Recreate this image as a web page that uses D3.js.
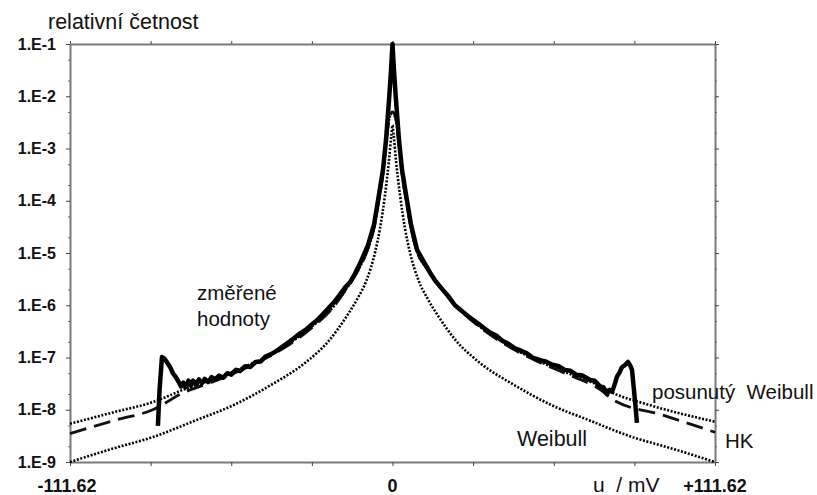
<!DOCTYPE html>
<html>
<head>
<meta charset="utf-8">
<script src="https://cdn.jsdelivr.net/npm/d3@7"></script>
<style>
  body { margin: 0; background: #fff; }
  text { font-family: "Liberation Sans", Arial, sans-serif; fill: #111; white-space: pre; }
</style>
</head>
<body>
<div id="chart"></div>
<script>
// axis ticks
const xTicks = [-111.62, -83.715, -55.81, -27.905, 0, 27.905, 55.81, 83.715, 111.62];
const xTickLabels = ["-111.62", "", "", "", "0", "", "", "", "+111.62"];
const yTicks = [1e-1, 1e-2, 1e-3, 1e-4, 1e-5, 1e-6, 1e-7, 1e-8, 1e-9];
const yTickLabels = ["1.E-1", "1.E-2", "1.E-3", "1.E-4", "1.E-5", "1.E-6", "1.E-7", "1.E-8", "1.E-9"];

// measured values (u in mV, relative frequency)
const measU = [-81.2, -80.6, -79.8, -78.9, -78.0, -77.0, -76.0, -75.0, -74.0, -73.2, -72.4, -71.6, -70.6,
  -69.8, -69.0, -68.0, -67.0, -66.0, -65.0, -63.8, -62.6, -61.4, -60.0, -58.6, -57.2, -55.8, -54.2,
  -52.8, -51.0, -49.2, -47.4, -45.6, -44.1, -42.0, -40.0, -37.8, -35.5, -33.5, -32.0, -30.0, -28.6,
  -26.0, -23.4, -20.5, -18.2, -16.4, -14.7, -13.0, -11.3, -8.5, -6.4, -5.0, -3.3, -2.25, -1.2, -0.5, 0,
  0.5, 1.2, 2.25, 3.3, 5.0, 6.4, 8.5, 11.25, 13.0, 14.7, 17.5, 19.5, 21.6, 24.0, 26.8, 30.0, 33.75, 36.0,
  38.0, 40.0, 42.4, 44.5, 46.5, 48.5, 51.05, 53.0, 55.0, 57.5, 59.7, 61.5, 63.5, 65.5, 68.4, 70.0,
  71.8, 73.0, 74.2, 75.2, 76.0, 77.0, 77.7, 78.6, 79.4, 80.5, 81.5, 82.3, 82.9, 83.4, 83.9, 84.6];
const measV = [4.9e-9, 2.5e-8, 1.02e-7, 9.5e-8, 8.0e-8, 6.6e-8, 5.0e-8, 4.2e-8, 3.4e-8, 2.8e-8, 3.3e-8, 2.7e-8, 3.6e-8,
  2.9e-8, 3.6e-8, 3.1e-8, 3.8e-8, 3.2e-8, 3.9e-8, 3.4e-8, 4.2e-8, 3.8e-8, 4.5e-8, 4.1e-8, 5.0e-8, 4.7e-8, 5.8e-8,
  5.5e-8, 6.8e-8, 6.6e-8, 8.2e-8, 8.4e-8, 1.03e-7, 1.16e-7, 1.35e-7, 1.65e-7, 2.05e-7, 2.5e-7, 2.9e-7, 3.4e-7, 4.0e-7,
  5.2e-7, 7.4e-7, 1.1e-6, 1.6e-6, 2.2e-6, 2.75e-6, 4.0e-6, 6.2e-6, 1.4e-5, 3.5e-5, 1.02e-4, 3.9e-4, 1.45e-3, 8.5e-3, 3.2e-2, 1.0e-1,
  3.2e-2, 8.5e-3, 1.45e-3, 3.9e-4, 1.02e-4, 3.5e-5, 1.15e-5, 6.2e-6, 4.2e-6, 3.0e-6, 1.95e-6, 1.45e-6, 1.0e-6, 7.8e-7, 5.8e-7, 4.3e-7, 3.0e-7, 2.6e-7,
  2.1e-7, 1.85e-7, 1.5e-7, 1.35e-7, 1.2e-7, 1.0e-7, 8.9e-8, 8.4e-8, 7.4e-8, 6.8e-8, 5.8e-8, 5.6e-8, 4.7e-8, 4.6e-8, 3.7e-8, 3.6e-8,
  2.8e-8, 2.7e-8, 2.0e-8, 2.4e-8, 2.2e-8, 3.2e-8, 4.3e-8, 5.2e-8, 6.5e-8, 7.2e-8, 8.2e-8, 7.0e-8, 5.8e-8, 3.0e-8, 1.55e-8, 5.6e-9];

// Weibull model
const weibU = [-111.62, -96, -83, -68, -55, -42, -30, -22, -16, -12, -9, -6, -4.3, -2.6, -1.2, -0.4, 0,
  0.4, 1.2, 2.6, 4.3, 6, 9, 12, 16, 22, 30, 42, 55, 68, 83, 96, 111.62];
const weibV = [1.0e-9, 1.86e-9, 3.0e-9, 6.3e-9, 1.23e-8, 3.0e-8, 8.1e-8, 2.1e-7, 6.0e-7, 1.38e-6, 3.0e-6, 1.05e-5, 3.0e-5, 1.29e-4, 6.0e-4, 1.8e-3, 2.8e-3,
  1.8e-3, 6.0e-4, 1.29e-4, 3.0e-5, 1.05e-5, 3.0e-6, 1.38e-6, 6.0e-7, 2.1e-7, 8.1e-8, 3.0e-8, 1.23e-8, 6.3e-9, 3.0e-9, 1.86e-9, 1.0e-9];

// shifted Weibull model
const shiftU = [-111.62, -96, -83, -71, -60, -50, -40, -30, -20, -16.4, -14, -11.3, -8.5, -6.4, -5, -3.3, -2.25, -1.2, 0,
  1.2, 2.25, 3.3, 5, 6.4, 8.5, 11.3, 14, 16.4, 20, 30, 40, 50, 60, 71, 76.3, 89, 111.62];
const shiftV = [5.4e-9, 9.1e-9, 1.4e-8, 2.6e-8, 4.2e-8, 7.1e-8, 1.3e-7, 3.2e-7, 1.0e-6, 1.9e-6, 3.0e-6, 5.4e-6, 1.2e-5, 3.0e-5, 8.5e-5, 3.3e-4, 1.2e-3, 3.5e-3, 5.0e-3,
  3.5e-3, 1.2e-3, 3.3e-4, 8.5e-5, 3.0e-5, 1.05e-5, 5.6e-6, 3.4e-6, 2.3e-6, 1.3e-6, 4.0e-7, 1.7e-7, 8.8e-8, 5.2e-8, 3.0e-8, 2.1e-8, 1.23e-8, 5.9e-9];

// HK model
const hkU = [-111.62, -96, -83, -72.5, -60, -50, -40, -30, -20, -16.4, -14, -11.3, -8.5, -6.4, -5, -3.3, -2.25, -1.2, 0,
  1.2, 2.25, 3.3, 5, 6.4, 8.5, 11.3, 14, 16.4, 20, 30, 40, 50, 60, 72.5, 76.3, 93.6, 111.62];
const hkV = [3.5e-9, 6.3e-9, 1.0e-8, 2.1e-8, 3.8e-8, 6.6e-8, 1.26e-7, 3.0e-7, 1.0e-6, 1.9e-6, 3.0e-6, 5.4e-6, 1.2e-5, 3.0e-5, 8.5e-5, 3.3e-4, 1.2e-3, 3.5e-3, 5.0e-3,
  3.5e-3, 1.2e-3, 3.3e-4, 8.5e-5, 3.0e-5, 1.05e-5, 5.6e-6, 3.4e-6, 2.3e-6, 1.28e-6, 3.9e-7, 1.65e-7, 8.5e-8, 4.9e-8, 2.3e-8, 1.55e-8, 7.9e-9, 3.7e-9];

const width = 817, height = 495;
const svg = d3.select("#chart").append("svg")
  .attr("width", width)
  .attr("height", height);

const x = d3.scaleLinear().domain([-111.62, 111.62]).range([70, 715]);
const y = d3.scaleLog().domain([1e-9, 1e-1]).range([462, 44]);

// minor ticks at 2 and 5 of each decade
const yMinor = [];
yTicks.slice(1).forEach(t => { yMinor.push(t * 2, t * 5); });

const axisColor = "#7a7a7a";

function styleAxis(g) {
  g.select(".domain").attr("stroke", axisColor).attr("stroke-width", 2);
  g.selectAll(".tick line").attr("stroke", "#444").attr("stroke-width", 1);
}

// left axis
svg.append("g")
  .attr("transform", "translate(70,0)")
  .call(d3.axisLeft(y).tickValues(yTicks).tickSize(4).tickSizeOuter(0).tickPadding(10)
    .tickFormat((d, i) => yTickLabels[i]))
  .call(styleAxis)
  .call(g => g.selectAll(".tick text")
    .attr("font-size", 16).attr("font-weight", "bold")
    .attr("font-family", "Liberation Sans, Arial, sans-serif").attr("fill", "#111"));

svg.append("g")
  .attr("transform", "translate(70,0)")
  .call(d3.axisLeft(y).tickValues(yMinor).tickSize(2).tickFormat(""))
  .call(g => g.select(".domain").remove())
  .call(g => g.selectAll(".tick line").attr("stroke", "#666"));

// right axis
svg.append("g")
  .attr("transform", "translate(715,0)")
  .call(d3.axisRight(y).tickValues(yTicks).tickSize(4).tickSizeOuter(0).tickFormat(""))
  .call(styleAxis);

svg.append("g")
  .attr("transform", "translate(715,0)")
  .call(d3.axisRight(y).tickValues(yMinor).tickSize(2).tickFormat(""))
  .call(g => g.select(".domain").remove())
  .call(g => g.selectAll(".tick line").attr("stroke", "#666"));

// bottom and top axes
svg.append("g")
  .attr("transform", "translate(0,462)")
  .call(d3.axisBottom(x).tickValues(xTicks).tickSize(4).tickSizeOuter(0).tickFormat(""))
  .call(styleAxis);

svg.append("g")
  .attr("transform", "translate(0,44)")
  .call(d3.axisTop(x).tickValues(xTicks).tickSize(3).tickSizeOuter(0).tickFormat(""))
  .call(styleAxis);

// x tick labels
svg.selectAll(".xlab")
  .data(xTicks.filter((d, i) => xTickLabels[i] !== ""))
  .enter()
  .append("text")
  .attr("class", "xlab")
  .attr("x", d => d < 0 ? x(d) - 3 : x(d))
  .attr("y", 492)
  .attr("text-anchor", "middle")
  .attr("font-size", 18)
  .attr("font-weight", "bold")
  .text(d => xTickLabels[xTicks.indexOf(d)]);

// curves
const line = (us, vs, curve) => d3.line()
  .x(d => x(us[d]))
  .y(d => y(vs[d]))
  .curve(curve)(d3.range(us.length));

svg.append("path")
  .attr("d", line(weibU, weibV, d3.curveMonotoneX))
  .attr("fill", "none")
  .attr("stroke", "#000")
  .attr("stroke-width", 2.6)
  .attr("stroke-dasharray", "2,1.6");

svg.append("path")
  .attr("d", line(shiftU, shiftV, d3.curveMonotoneX))
  .attr("fill", "none")
  .attr("stroke", "#000")
  .attr("stroke-width", 2.6)
  .attr("stroke-dasharray", "2,1.6");

svg.append("path")
  .attr("d", line(hkU, hkV, d3.curveMonotoneX))
  .attr("fill", "none")
  .attr("stroke", "#111")
  .attr("stroke-width", 2.8)
  .attr("stroke-dasharray", "17,8");

svg.append("path")
  .attr("d", line(measU, measV, d3.curveLinear))
  .attr("fill", "none")
  .attr("stroke", "#000")
  .attr("stroke-width", 4.5)
  .attr("stroke-linejoin", "round");

// texts
svg.append("text").attr("x", 48).attr("y", 29).attr("font-size", 21.5).text("relativní četnost");
svg.append("text").attr("x", 197).attr("y", 300).attr("font-size", 20.5).text("změřené");
svg.append("text").attr("x", 197).attr("y", 326).attr("font-size", 20.5).text("hodnoty");
svg.append("text").attr("x", 652).attr("y", 399).attr("font-size", 20.5).text("posunutý  Weibull");
svg.append("text").attr("x", 517).attr("y", 446).attr("font-size", 21.5).text("Weibull");
svg.append("text").attr("x", 725).attr("y", 448).attr("font-size", 20.5).text("HK");
svg.append("text").attr("x", 593).attr("y", 492).attr("font-size", 21).text("u  / mV");
</script>
</body>
</html>
